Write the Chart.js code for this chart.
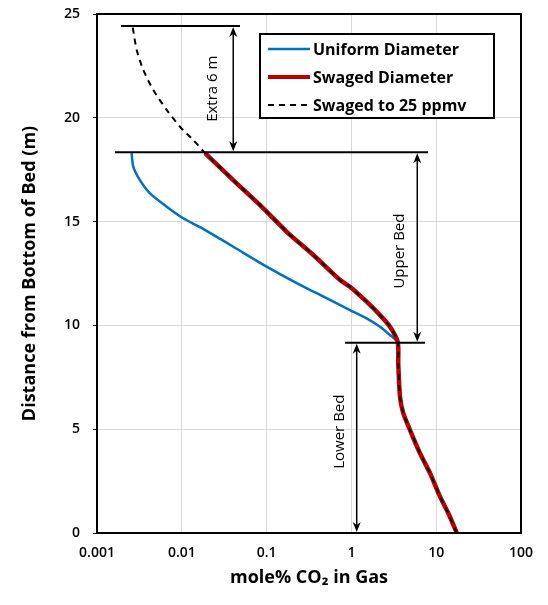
<!DOCTYPE html>
<html>
<head>
<meta charset="utf-8">
<script src="https://cdn.jsdelivr.net/npm/chart.js@4.4.1/dist/chart.umd.min.js"></script>
<style>
  body { margin: 0; background: #fff; }
  canvas { display: block; }
</style>
</head>
<body>
<canvas id="grafico" width="548" height="605"></canvas>
<script>
const xTicks = [0.001, 0.01, 0.1, 1, 10, 100];
const xTickLabels = ['0.001', '0.01', '0.1', '1', '10', '100'];

// Uniform diameter (blue)
const uniformY = [0, 0.95, 1.75, 2.88, 3.84, 4.96, 5.77, 6.57, 8.17, 9.2, 9.54, 9.94, 10.34, 10.74, 11.14, 11.55, 11.95, 12.83, 13.79, 14.73, 15.16, 15.72, 16.36, 17.0, 17.64, 18.3];
const uniformX = [17.5, 13.9, 11.1, 8.46, 6.44, 4.91, 4.09, 3.74, 3.57, 3.45, 2.85, 2.17, 1.51, 0.962, 0.613, 0.39, 0.248, 0.1, 0.0405, 0.0164, 0.0104, 0.00664, 0.00422, 0.00321, 0.00268, 0.00256];

// Swaged diameter (red)
const swagedY = [0, 0.95, 1.75, 2.88, 3.84, 4.96, 5.77, 6.57, 8.17, 9.2, 9.94, 10.5, 11.14, 11.86, 12.19, 13.39, 14.51, 15.64, 17.0, 18.3];
const swagedX = [17.5, 13.9, 11.1, 8.46, 6.44, 4.91, 4.09, 3.74, 3.57, 3.52, 2.85, 2.17, 1.51, 0.962, 0.735, 0.356, 0.1726, 0.0914, 0.0404, 0.0188];

// Swaged to 25 ppmv (dashed black)
const ppmvY = [0, 0.95, 1.75, 2.88, 3.84, 4.96, 5.77, 6.57, 8.17, 9.2, 9.94, 10.5, 11.14, 11.86, 12.19, 13.39, 14.51, 15.64, 17.0, 18.3, 18.93, 19.57, 20.38, 21.34, 22.3, 23.27, 24.36];
const ppmvX = [17.5, 13.9, 11.1, 8.46, 6.44, 4.91, 4.09, 3.74, 3.57, 3.52, 2.85, 2.17, 1.51, 0.962, 0.735, 0.356, 0.1726, 0.0914, 0.0404, 0.0188, 0.01368, 0.00953, 0.00664, 0.00461, 0.00352, 0.00294, 0.00264];

// bed boundaries, arrows and their labels
const bedLineY = [24.42, 18.34, 9.17];
const bedLineFrom = [0.00192, 0.00163, 0.842];
const bedLineTo = [0.0485, 8.0, 7.38];
const arrowX = [0.0404, 5.98, 1.155];
const arrowTop = [24.42, 18.34, 9.17];
const arrowBottom = [18.34, 9.17, 0];
const bedLabels = ['Extra 6 m', 'Upper Bed', 'Lower Bed'];
const bedLabelX = [0.0233, 3.74, 0.72];
const bedLabelY = [21.4, 13.58, 4.88];

const FONT = "'Open Sans', 'Noto Sans', sans-serif";

const puntos = (xs, ys) => xs.map((x, i) => ({ x, y: ys[i] }));

// lower "order" is drawn on top
const datasets = [
    { label: 'Uniform Diameter', data: puntos(uniformX, uniformY), borderColor: '#0070C0', borderWidth: 2.5, order: 3, inLegend: true },
    { label: 'Swaged Diameter', data: puntos(swagedX, swagedY), borderColor: '#C00000', borderWidth: 4.5, order: 2, inLegend: true },
    { label: 'Swaged to 25 ppmv', data: puntos(ppmvX, ppmvY), borderColor: '#000', borderWidth: 2, borderDash: [6, 5], order: 1, inLegend: true }
];
bedLineY.forEach((y, i) => {
    datasets.push({
        label: 'bed' + i,
        data: [{ x: bedLineFrom[i], y }, { x: bedLineTo[i], y }],
        borderColor: '#000', borderWidth: 2, tension: 0, order: 0
    });
});

function flecha(ctx, x, y, dir) {
    // dir = -1 points up, 1 points down
    ctx.beginPath();
    ctx.moveTo(x, y);
    ctx.lineTo(x - 4, y - dir * 10);
    ctx.lineTo(x, y - dir * 7);
    ctx.lineTo(x + 4, y - dir * 10);
    ctx.closePath();
    ctx.fill();
}

const anotaciones = {
    id: 'anotaciones',
    afterDatasetsDraw(chart) {
        const { ctx, chartArea: a, scales: { x, y } } = chart;
        ctx.save();
        // frame
        ctx.strokeStyle = '#000';
        ctx.lineWidth = 2;
        ctx.strokeRect(a.left, a.top, a.right - a.left, a.bottom - a.top);

        // arrows
        ctx.fillStyle = '#000';
        ctx.lineWidth = 1.5;
        arrowX.forEach((v, i) => {
            const px = x.getPixelForValue(v);
            const y1 = y.getPixelForValue(arrowTop[i]);
            const y2 = y.getPixelForValue(arrowBottom[i]);
            ctx.beginPath();
            ctx.moveTo(px, y1 + 4);
            ctx.lineTo(px, y2 - 4);
            ctx.stroke();
            flecha(ctx, px, y1 + 1, -1);
            flecha(ctx, px, y2 - 1, 1);
        });

        // rotated labels
        ctx.font = '15px ' + FONT;
        ctx.textAlign = 'center';
        ctx.textBaseline = 'middle';
        bedLabels.forEach((t, i) => {
            ctx.save();
            ctx.translate(x.getPixelForValue(bedLabelX[i]), y.getPixelForValue(bedLabelY[i]));
            ctx.rotate(-Math.PI / 2);
            ctx.fillText(t, 0, 0);
            ctx.restore();
        });

        // legend
        const lx = 260, ly = 34, lw = 234, lh = 84;
        ctx.fillStyle = '#fff';
        ctx.fillRect(lx, ly, lw, lh);
        ctx.strokeStyle = '#000';
        ctx.lineWidth = 2;
        ctx.strokeRect(lx, ly, lw, lh);
        ctx.font = 'bold 16px ' + FONT;
        ctx.textAlign = 'left';
        chart.data.datasets.filter(d => d.inLegend).forEach((d, i) => {
            const ry = ly + 15 + i * 28;
            ctx.beginPath();
            ctx.strokeStyle = d.borderColor;
            ctx.lineWidth = Math.min(d.borderWidth, 4);
            ctx.setLineDash(d.borderDash || []);
            ctx.moveTo(lx + 8, ry);
            ctx.lineTo(lx + 50, ry);
            ctx.stroke();
            ctx.setLineDash([]);
            ctx.fillStyle = '#000';
            ctx.fillText(d.label, lx + 53, ry + 1);
        });
        ctx.restore();
    }
};

new Chart(document.getElementById('grafico').getContext('2d'), {
    type: 'line',
    data: { datasets },
    options: {
        responsive: false,
        animation: false,
        layout: { padding: { top: 14, right: 27, left: 0, bottom: 0 } },
        elements: { point: { radius: 0 }, line: { tension: 0.25, fill: false } },
        plugins: { legend: { display: false }, tooltip: { enabled: false } },
        scales: {
            x: {
                type: 'logarithmic',
                min: 0.001,
                max: 100,
                afterBuildTicks: s => { s.ticks = xTicks.map(v => ({ value: v })); },
                afterFit: s => { s.height = 72; },
                ticks: {
                    callback: (v, i) => xTickLabels[i],
                    color: '#000',
                    font: { family: FONT, size: 14, weight: '600' },
                    padding: 12,
                    maxRotation: 0,
                    autoSkip: false
                },
                grid: { color: '#d9d9d9', drawTicks: false },
                border: { color: '#000', width: 2 },
                title: {
                    display: true,
                    text: 'mole% CO₂ in Gas',
                    color: '#000',
                    font: { family: FONT, size: 18, weight: 'bold' },
                    padding: { bottom: 16 }
                }
            },
            y: {
                min: 0,
                max: 25,
                afterFit: s => { s.width = 97; s.paddingTop = 0; s.paddingBottom = 0; },
                ticks: {
                    stepSize: 5,
                    color: '#000',
                    font: { family: FONT, size: 14, weight: '600' },
                    padding: 13
                },
                grid: { color: '#d9d9d9', tickColor: '#000', tickLength: 4 },
                border: { color: '#000', width: 2 },
                title: {
                    display: true,
                    text: 'Distance from Bottom of Bed (m)',
                    color: '#000',
                    font: { family: FONT, size: 18, weight: 'bold' },
                    padding: { top: 19 }
                }
            }
        }
    },
    plugins: [anotaciones]
});
</script>
</body>
</html>
